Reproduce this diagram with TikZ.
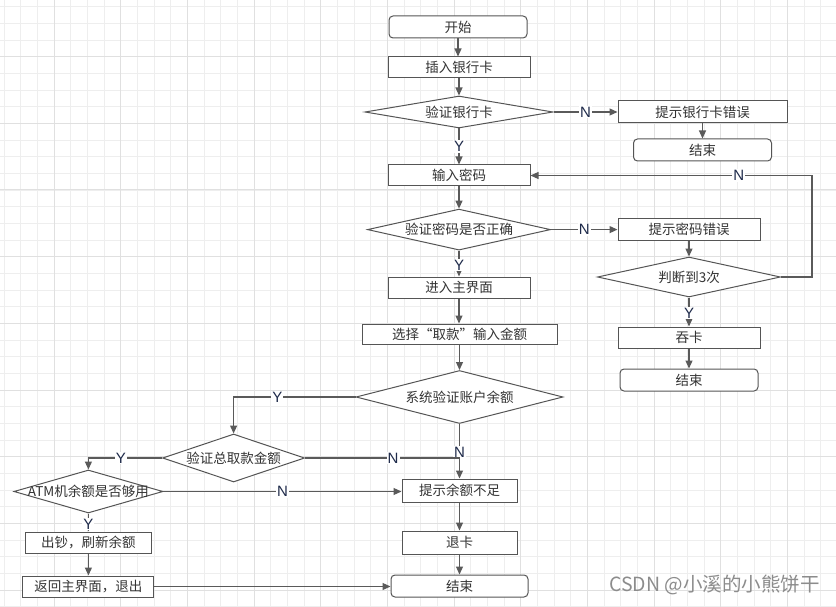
\documentclass[tikz,border=0pt]{standalone}
\usepackage{fontspec}
\setmainfont{Noto Sans CJK SC}
\newfontfamily\latfont{Liberation Sans}
\usetikzlibrary{arrows.meta,shapes.geometric}
\definecolor{gridminor}{HTML}{EEEEEE}
\definecolor{gridmajor}{HTML}{E0E0E0}
\definecolor{bordc}{HTML}{555555}
\definecolor{linec}{HTML}{5A5A5A}
\definecolor{txtc}{HTML}{333333}
\definecolor{lblc}{HTML}{1E2A4A}
\definecolor{wmc}{HTML}{8C8C8C}
\begin{document}
\begin{tikzpicture}[x=1pt,y=-1pt,
  base/.style={draw=bordc, line width=1pt, fill=white, text=txtc,
    font=\fontsize{13.5}{16}\selectfont, inner sep=0pt},
  rect/.style={base, rectangle},
  rrect/.style={base, rectangle, rounded corners=4pt},
  dia/.style={base, diamond},
  dtext/.style={text=txtc, font=\fontsize{13.5}{16}\selectfont, inner sep=0pt},
  lbl/.style={fill=white, inner sep=1pt, text=lblc, font=\latfont\fontsize{15}{17}\selectfont},
  conn/.style={draw=linec, line width=1.2pt, -{Triangle[length=8pt,width=7pt]}},
  plain/.style={draw=linec, line width=1.2pt}]
\useasboundingbox (0,0) rectangle (836,607);
\fill[white] (0,0) rectangle (836,607);
% grid
\foreach \i in {0,...,50} {
  \pgfmathsetmacro\xx{4+16.6667*\i}
  \draw[gridminor, line width=0.9pt] (\xx,0) -- (\xx,607);
}
\foreach \i in {0,...,36} {
  \pgfmathsetmacro\yy{6.6667+16.6667*\i}
  \draw[gridminor, line width=0.9pt] (0,\yy) -- (836,\yy);
}
\foreach \i in {0,...,12} {
  \pgfmathsetmacro\xx{54+66.6667*\i}
  \draw[gridmajor, line width=1pt] (\xx,0) -- (\xx,607);
}
\foreach \i in {0,...,8} {
  \pgfmathsetmacro\yy{56.6667+66.6667*\i}
  \draw[gridmajor, line width=1pt] (0,\yy) -- (836,\yy);
}

% nodes
\node[rrect, minimum width=138pt, minimum height=22pt] (start) at (458,27) {开始};
\node[rect, minimum width=142pt, minimum height=21pt] (insert) at (459,67.5) {插入银行卡};
\node[dia, minimum width=188pt, minimum height=32pt, label={[dtext]center:验证银行卡}] (vcard) at (459,112) {};
\node[rect, minimum width=169pt, minimum height=22pt] (carderr) at (702.5,112) {提示银行卡错误};
\node[rrect, minimum width=138pt, minimum height=22pt] (end1) at (702.5,150) {结束};
\node[rect, minimum width=142pt, minimum height=21pt] (pwd) at (459,175.5) {输入密码};
\node[dia, minimum width=183pt, minimum height=41pt, label={[dtext]center:验证密码是否正确}] (vpwd) at (459,229.6) {};
\node[rect, minimum width=142pt, minimum height=21pt] (pwderr) at (689,229.5) {提示密码错误};
\node[dia, minimum width=183pt, minimum height=40pt, label={[dtext]center:判断到3次}] (three) at (689,277) {};
\node[rect, minimum width=142pt, minimum height=21pt] (swallow) at (689,337.5) {吞卡};
\node[rrect, minimum width=138pt, minimum height=22pt] (end2) at (689,380) {结束};
\node[rect, minimum width=142pt, minimum height=21pt] (mainui) at (459,287.5) {进入主界面};
\node[rect, minimum width=195pt, minimum height=20pt] (select) at (459.5,334) {选择“取款”输入金额};
\node[dia, minimum width=207pt, minimum height=53pt, label={[dtext]center:系统验证账户余额}] (sys) at (459.5,397) {};
\node[dia, minimum width=142pt, minimum height=48pt, label={[dtext]center:验证总取款金额}] (total) at (233.6,458) {};
\node[dia, minimum width=149pt, minimum height=43pt, label={[dtext]center:ATM机余额是否够用}] (atm) at (88.4,491.5) {};
\node[rect, minimum width=115pt, minimum height=23pt] (lack) at (459.5,490.5) {提示余额不足};
\node[rect, minimum width=115pt, minimum height=23pt] (eject) at (459.5,542.5) {退卡};
\node[rrect, minimum width=137pt, minimum height=22pt] (end3) at (459.5,586) {结束};
\node[rect, minimum width=126pt, minimum height=21pt] (cash) at (88.4,542.5) {出钞，刷新余额};
\node[rect, minimum width=131pt, minimum height=21pt] (back) at (88.4,586.5) {返回主界面，退出};

\coordinate (loop) at (812,277);

% connectors
\draw[conn] (start.south) -- (start.south |- insert.north);
\draw[conn] (insert.south) -- (vcard.north);
\draw[conn] (vcard.east) -- node[lbl,pos=0.5]{N} (carderr.west);
\draw[conn] (carderr.south) -- (carderr.south |- end1.north);
\draw[conn] (vcard.south) -- node[lbl,pos=0.5]{Y} (pwd.north);
\draw[conn] (pwd.south) -- (vpwd.north);
\draw[conn] (vpwd.east) -- node[lbl,pos=0.5]{N} (vpwd.east -| pwderr.west);
\draw[conn] (pwderr.south) -- (three.north);
\draw[conn] (three.east) -- (loop) |- node[lbl,pos=0.63]{N} (pwd.east);
\draw[conn] (three.south) -- node[lbl,pos=0.53]{Y} (swallow.north);
\draw[conn] (swallow.south) -- (end2.north);
\draw[conn] (vpwd.south) -- node[lbl,pos=0.55]{Y} (mainui.north);
\draw[conn] (mainui.south) -- (mainui.south |- select.north);
\draw[conn] (select.south) -- (sys.north);
\draw[conn] (sys.west) -| node[lbl,pos=0.32]{Y} (total.north);
\draw[conn] (sys.south) -- node[lbl,pos=0.52]{N} (lack.north);
\draw[plain] (total.east) -- node[lbl,pos=0.57]{N} (total.east -| lack.north);
\draw[conn] (total.west) -| node[lbl,pos=0.28]{Y} (atm.north);
\draw[conn] (atm.east) -- node[lbl,pos=0.5]{N} (atm.east -| lack.west);
\draw[conn] (atm.south) -- node[lbl,pos=0.58]{Y} (cash.north);
\draw[conn] (cash.south) -- (back.north);
\draw[conn] (back.east) -- (back.east -| end3.west);
\draw[conn] (lack.south) -- (eject.north);
\draw[conn] (eject.south) -- (end3.north);

% watermark
\node[anchor=west, inner sep=0pt, text=wmc, font=\fontsize{19.5}{22}\selectfont] (wm) at (609,585) {CSDN @小溪的小熊饼干};
\end{tikzpicture}
\end{document}
